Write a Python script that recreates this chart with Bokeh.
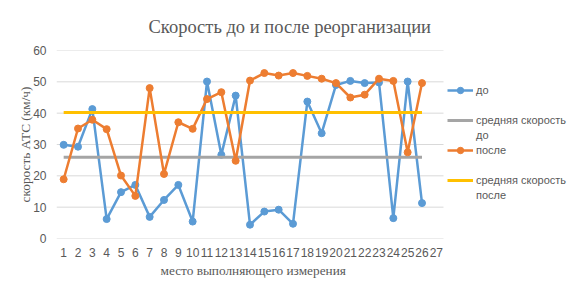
from bokeh.plotting import figure
from bokeh.models import Legend, LegendItem, FixedTicker, Range1d, ColumnDataSource, Title
from bokeh.embed import file_html
from bokeh.resources import INLINE

# ---- data ----
places = [1, 2, 3, 4, 5, 6, 7, 8, 9, 10, 11, 12, 13, 14, 15, 16, 17, 18, 19, 20, 21, 22, 23, 24, 25, 26]
x_ticks = [1, 2, 3, 4, 5, 6, 7, 8, 9, 10, 11, 12, 13, 14, 15, 16, 17, 18, 19, 20, 21, 22, 23, 24, 25, 26, 27]
y_ticks = [0, 10, 20, 30, 40, 50, 60]
before = [29.9, 29.3, 41.3, 6.2, 14.8, 17.1, 6.9, 12.3, 17.1, 5.4,
          50.1, 26.7, 45.6, 4.4, 8.6, 9.2, 4.7, 43.7, 33.6, 49.0,
          50.3, 49.6, 49.8, 6.5, 50.1, 11.3]
after = [18.9, 35.1, 37.9, 34.9, 20.1, 13.6, 48.0, 20.6, 37.1, 35.0,
         44.5, 46.7, 24.8, 50.4, 52.8, 52.0, 52.8, 51.9, 51.0, 49.6,
         45.0, 45.9, 51.0, 50.3, 27.5, 49.6]
mean_before = 25.9
mean_after = 40.2

title_text = "Скорость до и после реорганизации"
x_title = "место выполняющего измерения"
y_title = "скорость АТС (км/ч)"
names = ["до", "средняя скорость", "после", "средняя скорость"]
second_lines = ["до", "после"]

BLUE = "#5b9bd5"
ORANGE = "#ed7d31"
GRAY = "#a5a5a5"
YELLOW = "#ffc000"
GRID = "#d9d9d9"
TXT = "#595959"

# axis extent of the category area (27 categories); the frame extends right to hold the legend
X_LO, X_HI = 0.5, 27.5
PLOT_W = 387          # pixels of the category area
FRAME_W = 515         # category area + legend area
x_view_hi = X_LO + (X_HI - X_LO) * FRAME_W / PLOT_W

src = ColumnDataSource(dict(
    x=places,
    before=before,
    after=after,
    mb=[mean_before] * len(places),
    ma=[mean_after] * len(places),
))
grid_src = ColumnDataSource(dict(
    y=y_ticks,
    x0=[X_LO] * len(y_ticks),
    x1=[X_HI] * len(y_ticks),
))

p = figure(frame_width=FRAME_W, frame_height=188,
           min_border_left=56, min_border_right=0,
           min_border_top=49, min_border_bottom=45,
           x_range=Range1d(X_LO, x_view_hi), y_range=Range1d(0, 60),
           output_backend="svg", toolbar_location=None,
           background_fill_color="white", border_fill_color="white")
p.outline_line_color = None

p.title.text = title_text
p.title.text_font = "Liberation Serif"
p.title.text_font_size = "18.5px"
p.title.text_font_style = "normal"
p.title.text_color = TXT
p.title.align = "left"
p.title.offset = 92
p.title.standoff = 28

p.xgrid.grid_line_color = None
p.ygrid.grid_line_color = None
p.segment(x0="x0", x1="x1", y0="y", y1="y", source=grid_src,
          line_color=GRID, line_width=1)

p.xaxis.ticker = FixedTicker(ticks=x_ticks)
p.yaxis.ticker = FixedTicker(ticks=y_ticks)
p.xaxis.bounds = (X_LO, X_HI)
for ax in (p.xaxis, p.yaxis):
    ax.axis_line_color = None
    ax.major_tick_line_color = None
    ax.minor_tick_line_color = None
    ax.major_tick_out = 0
    ax.major_tick_in = 0
    ax.minor_tick_out = 0
    ax.minor_tick_in = 0
    ax.major_label_text_font = "Liberation Sans"
    ax.major_label_text_font_size = "12px"
    ax.major_label_text_color = TXT
    ax.axis_label_text_font = "Liberation Serif"
    ax.axis_label_text_font_size = "13.3px"
    ax.axis_label_text_font_style = "normal"
    ax.axis_label_text_color = TXT
p.yaxis.axis_label = y_title
p.xaxis.major_label_standoff = 9
p.yaxis.major_label_standoff = 10
p.yaxis.axis_label_standoff = -3

# x-axis title centred under the category area (not under the whole frame)
xt = Title(text=x_title, align="left", offset=104, standoff=2,
           text_font="Liberation Serif", text_font_size="13.3px",
           text_font_style="normal", text_color=TXT)
p.add_layout(xt, "below")

r_b_line = p.line("x", "before", source=src, line_color=BLUE, line_width=2.5)
r_b_pts = p.scatter("x", "before", source=src, size=7, fill_color=BLUE, line_color=BLUE)
r_mb = p.line("x", "mb", source=src, line_color=GRAY, line_width=3)
r_a_line = p.line("x", "after", source=src, line_color=ORANGE, line_width=2.5)
r_a_pts = p.scatter("x", "after", source=src, size=7, fill_color=ORANGE, line_color=ORANGE)
r_ma = p.line("x", "ma", source=src, line_color=YELLOW, line_width=3)

# invisible renderers carrying the second lines of the two-line legend labels
d1 = p.line([], [], line_alpha=0)
d2 = p.line([], [], line_alpha=0)


def style_legend(leg):
    leg.border_line_color = None
    leg.background_fill_alpha = 0
    leg.padding = 0
    leg.margin = 0
    leg.glyph_width = 26
    leg.glyph_height = 16
    leg.label_height = 16
    leg.label_standoff = 3
    leg.label_text_font = "Liberation Sans"
    leg.label_text_font_size = "11px"
    leg.label_text_color = TXT


legA = Legend(items=[
    LegendItem(label=names[0], renderers=[r_b_line, r_b_pts]),
    LegendItem(label=names[1], renderers=[r_mb]),
    LegendItem(label=names[2], renderers=[r_a_line, r_a_pts]),
    LegendItem(label=names[3], renderers=[r_ma]),
], location=(391, 50))
style_legend(legA)
legA.spacing = 14

legB = Legend(items=[
    LegendItem(label=second_lines[0], renderers=[d1]),
    LegendItem(label=second_lines[1], renderers=[d2]),
], location=(391, 35))
style_legend(legB)
legB.spacing = 44

p.add_layout(legA)
p.add_layout(legB)

open("out.html", "w").write(file_html(p, INLINE))
